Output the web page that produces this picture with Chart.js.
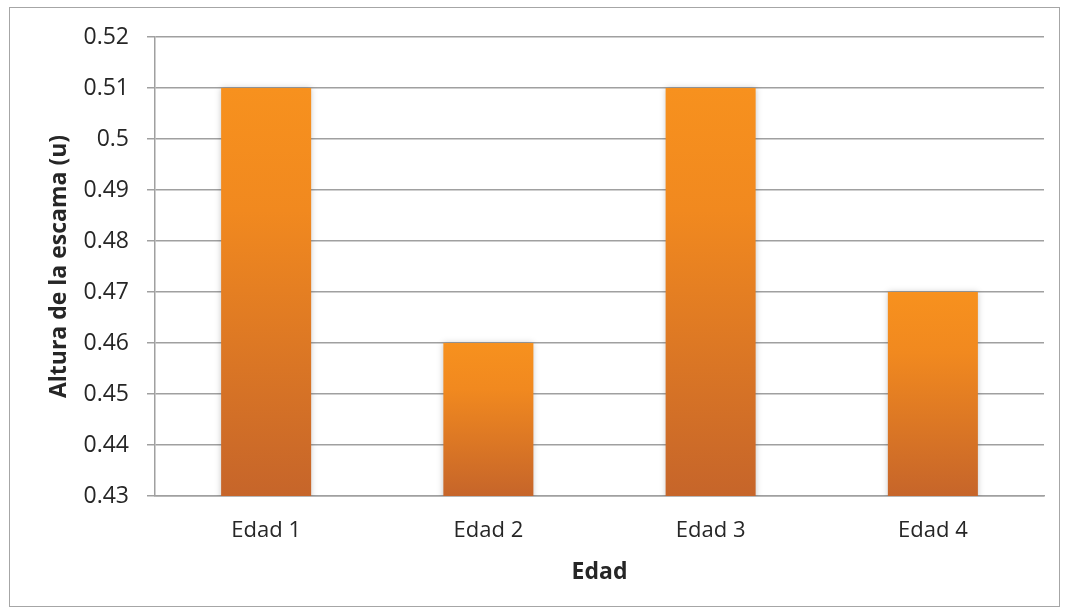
<!DOCTYPE html>
<html>
<head>
<meta charset="utf-8">
<script src="https://cdn.jsdelivr.net/npm/chart.js@4/dist/chart.umd.min.js"></script>
<style>
  html, body { margin: 0; padding: 0; background: #fff; }
  #wrap { position: relative; width: 1068px; height: 615px; }
  #frame {
    position: absolute; left: 9px; top: 7px; width: 1051px; height: 600px;
    border: 1px solid #a6a6a6; box-sizing: border-box; pointer-events: none;
  }
</style>
</head>
<body>
<div id="wrap">
  <canvas id="chart" width="1068" height="615"></canvas>
  <div id="frame"></div>
</div>
<script>
const categories = ["Edad 1", "Edad 2", "Edad 3", "Edad 4"];
const alturas = [0.51, 0.46, 0.51, 0.47];
const yMin = 0.43;
const yMax = 0.52;
const yStep = 0.01;

const gridColor = "#a0a0a0";
const textColor = "#262626";
const fontFamily = "'Open Sans', 'DejaVu Sans', sans-serif";

// vertical orange gradient, one per bar, from its top edge down to the base
function barGradient(context) {
    const chart = context.chart;
    const area = chart.chartArea;
    if (!area || context.type !== "data") return "#f28a20";
    const y = chart.scales.y;
    const top = y.getPixelForValue(alturas[context.dataIndex]);
    const g = chart.ctx.createLinearGradient(0, top, 0, area.bottom);
    g.addColorStop(0, "#f7911e");
    g.addColorStop(0.3, "#f1891f");
    g.addColorStop(1, "#c6652a");
    return g;
}

// soft grey halo behind the bars
const barShadow = {
    id: "barShadow",
    beforeDatasetsDraw(chart) {
        const ctx = chart.ctx;
        ctx.save();
        ctx.shadowColor = "rgba(0,0,0,0.22)";
        ctx.shadowBlur = 6;
        ctx.shadowOffsetX = 0;
        ctx.shadowOffsetY = 0;
    },
    afterDatasetsDraw(chart) {
        chart.ctx.restore();
    },
};

new Chart(document.getElementById("chart"), {
    type: "bar",
    data: {
        labels: categories,
        datasets: [
            {
                label: "Altura",
                data: alturas,
                backgroundColor: barGradient,
                borderWidth: 0,
                categoryPercentage: 1,
                barPercentage: 0.405,
            },
        ],
    },
    options: {
        responsive: false,
        animation: false,
        layout: { padding: { left: 10, right: 24, top: 37, bottom: 7 } },
        plugins: {
            legend: { display: false },
            tooltip: { enabled: false },
        },
        scales: {
            x: {
                afterFit(scale) { scale.height = 112; },
                grid: { display: false, drawTicks: false },
                border: { display: true, color: gridColor, width: 1.5 },
                ticks: {
                    color: textColor,
                    padding: 22,
                    font: { family: fontFamily, size: 22 },
                },
                title: {
                    display: true,
                    text: "Edad",
                    color: textColor,
                    padding: { top: 0, bottom: 22 },
                    font: { family: fontFamily, size: 23, weight: "bold" },
                },
            },
            y: {
                min: yMin,
                max: yMax,
                afterFit(scale) { scale.width = 145; },
                afterBuildTicks(scale) {
                    const ticks = [];
                    for (let i = 0; i <= Math.round((yMax - yMin) / yStep); i++) {
                        ticks.push({ value: +(yMin + i * yStep).toFixed(2) });
                    }
                    scale.ticks = ticks;
                },
                grid: { color: gridColor, lineWidth: 1.5, tickLength: 8, drawTicks: true },
                border: { display: true, color: gridColor, width: 1.5 },
                ticks: {
                    color: textColor,
                    padding: 18,
                    font: { family: fontFamily, size: 23 },
                    callback: (v) => String(+v.toFixed(2)),
                },
                title: {
                    display: true,
                    text: "Altura de la escama (u)",
                    color: textColor,
                    padding: { top: 36, bottom: 0 },
                    font: { family: fontFamily, size: 23, weight: "bold" },
                },
            },
        },
    },
    plugins: [barShadow],
});
</script>
</body>
</html>
